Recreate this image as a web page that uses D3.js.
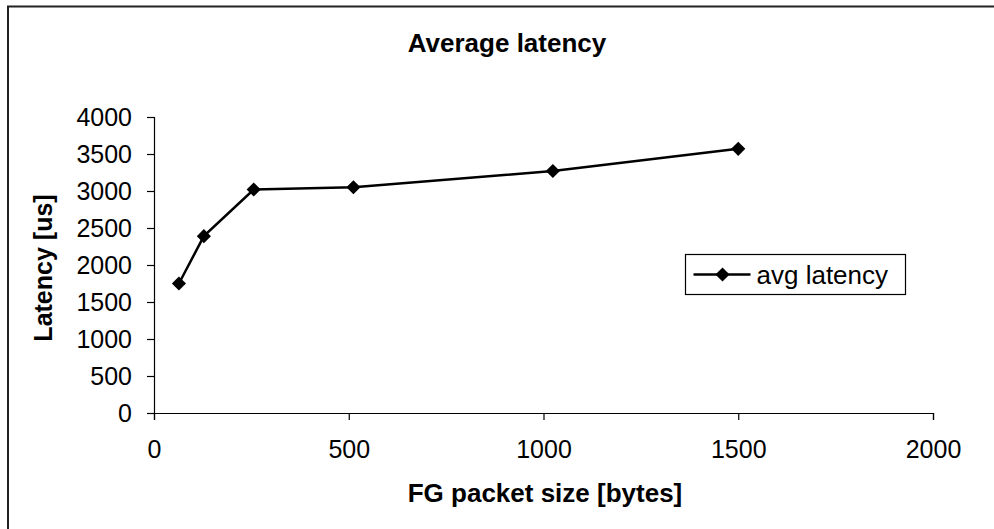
<!DOCTYPE html>
<html>
<head>
<meta charset="utf-8">
<script src="https://cdn.jsdelivr.net/npm/d3@7"></script>
<style>
  body { margin: 0; background: #fff; }
  text { font-family: "Liberation Sans", Arial, sans-serif; fill: #000; }
</style>
</head>
<body>
<svg width="994" height="529"></svg>
<script>
// packet sizes (bytes) and measured average latency (us)
var packetSizes = [64, 128, 256, 512, 1024, 1500];
var avgLatency = [1750, 2390, 3020, 3050, 3270, 3570];
var xTickValues = [0, 500, 1000, 1500, 2000];
var yTickValues = [0, 500, 1000, 1500, 2000, 2500, 3000, 3500, 4000];

var svg = d3.select("svg");
var margin = {left: 154, top: 117, right: 61, bottom: 116};
var width = 994 - margin.left - margin.right,
    height = 529 - margin.top - margin.bottom;

// outer chart border (right and bottom edges fall outside the picture)
svg.append("path")
    .attr("d", "M8,600 L8,6.5 L1000,6.5")
    .attr("fill", "none")
    .attr("stroke", "#222")
    .attr("stroke-width", 2);

var x = d3.scaleLinear().domain([0, 2000]).range([0, width]);
var y = d3.scaleLinear().domain([0, 4000]).range([height, 0]);

var g = svg.append("g")
    .attr("transform", "translate(" + margin.left + "," + margin.top + ")");

var xAxis = g.append("g")
    .attr("transform", "translate(0," + height + ")")
    .call(d3.axisBottom(x).tickValues(xTickValues).tickFormat(d3.format("d"))
        .tickSizeOuter(0).tickSize(7).tickPadding(20));
var yAxis = g.append("g")
    .call(d3.axisLeft(y).tickValues(yTickValues).tickFormat(d3.format("d"))
        .tickSizeOuter(0).tickSize(7).tickPadding(15));

[xAxis, yAxis].forEach(function(a) {
    a.selectAll("text").style("font-size", "25px").style("font-family", "'Liberation Sans', Arial, sans-serif");
    a.selectAll("line, path").attr("stroke", "#000").attr("stroke-width", 1.2);
});

var line = d3.line()
    .x(function(d) { return x(d[0]); })
    .y(function(d) { return y(d[1]); });

var points = packetSizes.map(function(s, i) { return [s, avgLatency[i]]; });

g.append("path")
    .datum(points)
    .attr("d", line)
    .attr("fill", "none")
    .attr("stroke", "#000")
    .attr("stroke-width", 2.5);

var diamond = d3.symbol().type(d3.symbolSquare).size(100);
g.selectAll(".pt")
    .data(points)
    .enter().append("path")
    .attr("class", "pt")
    .attr("d", diamond)
    .attr("transform", function(d) { return "translate(" + x(d[0]) + "," + y(d[1]) + ") rotate(45)"; })
    .attr("fill", "#000");

// titles
svg.append("text")
    .attr("x", 507).attr("y", 52)
    .attr("text-anchor", "middle")
    .style("font-size", "26px").style("font-weight", "bold")
    .text("Average latency");

svg.append("text")
    .attr("x", 545).attr("y", 502)
    .attr("text-anchor", "middle")
    .style("font-size", "26px").style("font-weight", "bold")
    .text("FG packet size [bytes]");

svg.append("text")
    .attr("transform", "translate(52,268) rotate(-90)")
    .attr("text-anchor", "middle")
    .style("font-size", "25px").style("font-weight", "bold")
    .text("Latency [us]");

// legend
var legend = svg.append("g").attr("transform", "translate(685.5,254.5)");
legend.append("rect")
    .attr("width", 220).attr("height", 40)
    .attr("fill", "#fff").attr("stroke", "#000").attr("stroke-width", 1.2);
legend.append("line")
    .attr("x1", 8).attr("x2", 65).attr("y1", 20).attr("y2", 20)
    .attr("stroke", "#000").attr("stroke-width", 2.5);
legend.append("path")
    .attr("d", diamond)
    .attr("transform", "translate(37,20) rotate(45)")
    .attr("fill", "#000");
legend.append("text")
    .attr("x", 71).attr("y", 29)
    .style("font-size", "26px")
    .text("avg latency");
</script>
</body>
</html>
